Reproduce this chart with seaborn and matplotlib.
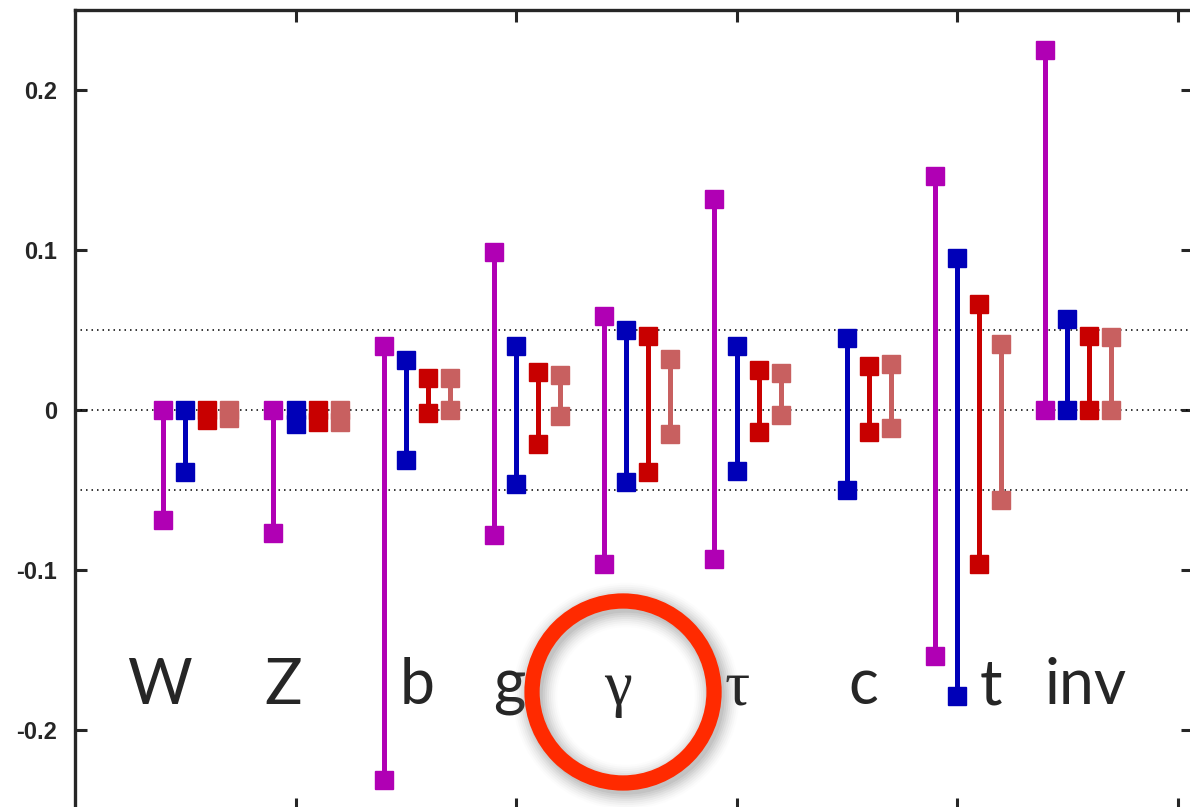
import matplotlib
matplotlib.use("Agg")
import matplotlib.pyplot as plt
from matplotlib.patches import Ellipse
import pandas as pd
import numpy as np
import seaborn as sns

# channels along x, four fits per channel
channels = ["W", "Z", "b", "g", "γ", "τ", "c", "t", "inv"]
series = ["s1", "s2", "s3", "s4"]
colors = {"s1": "#b000b4", "s2": "#0000b8", "s3": "#c80000", "s4": "#c86060"}

# lower / upper ends for each series (NaN = not shown)
s1_lo = [-0.069, -0.077, -0.231, -0.078, -0.096, -0.093, np.nan, -0.154, 0.0]
s1_hi = [0.0, 0.0, 0.040, 0.099, 0.059, 0.132, np.nan, 0.146, 0.225]
s2_lo = [-0.039, -0.009, -0.031, -0.046, -0.045, -0.038, -0.050, -0.179, 0.0]
s2_hi = [0.0, 0.0, 0.031, 0.040, 0.050, 0.040, 0.045, 0.095, 0.057]
s3_lo = [-0.006, -0.0075, -0.002, -0.021, -0.039, -0.014, -0.0135, -0.096, 0.0]
s3_hi = [0.0, 0.0, 0.020, 0.024, 0.046, 0.025, 0.0275, 0.066, 0.046]
s4_lo = [-0.005, -0.0075, 0.0, -0.004, -0.015, -0.003, -0.0115, -0.056, 0.0]
s4_hi = [0.0, 0.0, 0.020, 0.022, 0.032, 0.023, 0.0285, 0.041, 0.0455]

yticks = [-0.2, -0.1, 0, 0.1, 0.2]
ytick_labels = ["-0.2", "-0.1", "0", "0.1", "0.2"]

lows = {"s1": s1_lo, "s2": s2_lo, "s3": s3_lo, "s4": s4_lo}
highs = {"s1": s1_hi, "s2": s2_hi, "s3": s3_hi, "s4": s4_hi}
offsets = {"s1": -0.1, "s2": 0.0, "s3": 0.1, "s4": 0.2}

rows = []
for i, ch in enumerate(channels):
    for s in series:
        for v in (lows[s][i], highs[s][i]):
            if not np.isnan(v):
                rows.append({"x": 0.5 * (i + 1) + offsets[s], "y": v,
                             "series": s, "unit": f"{ch}-{s}"})
df = pd.DataFrame(rows)

sns.set_style("ticks")
plt.rcParams["axes.unicode_minus"] = False

fig = plt.figure(figsize=(11.9, 8.07), dpi=100)
ax = fig.add_axes([75 / 1190, -3 / 807, 1118 / 1190, 800 / 807])

for yl in (-0.05, 0, 0.05):
    ax.axhline(yl, color="black", lw=1.1, ls=(0, (1, 2.6)), zorder=1)
n_ref = len(ax.lines)

sns.lineplot(data=df, x="x", y="y", hue="series", units="unit", estimator=None,
             sort=False, palette=colors, marker="s", markersize=12.5,
             markeredgewidth=1, legend=False, ax=ax, zorder=3)
for line in ax.lines[n_ref:]:
    line.set_linewidth(3.6)
    line.set_markeredgecolor(line.get_color())

ax.set_xlim(0, 5.07)
ax.set_ylim(-0.25, 0.25)
ax.set_xticks([1, 2, 3, 4, 5])
ax.set_xticklabels([])
ax.set_yticks(yticks)
ax.set_yticklabels(ytick_labels, fontweight="bold", fontsize=17,
                   family="Liberation Sans")
ax.set_xlabel("")
ax.set_ylabel("")
ax.tick_params(direction="in", length=8.6, width=2.2, top=True, right=True,
               pad=13)
for sp in ax.spines.values():
    sp.set_linewidth(2.4)

# channel names on the plot
label_x = [0.385, 0.943, 1.551, 1.968, 2.463, 3.002, 3.574, 4.154, 4.585]
for ch, lx in zip(channels, label_x):
    fam = "Liberation Serif" if ch in ("γ", "τ") else "Lato"
    ax.text(lx, -0.184, ch, ha="center", va="baseline", fontsize=45,
            family=fam, zorder=4)

# highlight ring around gamma with soft shadow
cx = (623 - 75) / 220.5
cy = (409 - 691) / 1600.0
rx = 2 * 91 / 220.5
ry = 2 * 91 / 1600.0
for k, a in zip(range(8), np.linspace(0.12, 0.02, 8)):
    ax.add_patch(Ellipse((cx + 3 / 220.5, cy - 4 / 1600.0), rx, ry, fill=False,
                         ec="gray", lw=11 + 3 * k, alpha=a, zorder=5))
ax.add_patch(Ellipse((cx, cy), rx, ry, fill=False, ec="#ff2a00", lw=11,
                     zorder=6))

fig.savefig("out.png", dpi=100)
